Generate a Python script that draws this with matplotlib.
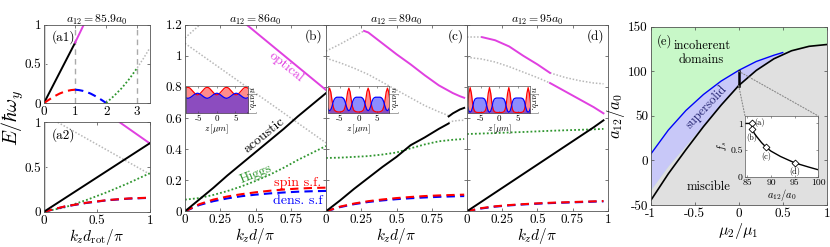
import numpy as np
import matplotlib
matplotlib.use("Agg")
import matplotlib.pyplot as plt
from matplotlib.patches import ConnectionPatch

plt.rcParams['font.family'] = 'serif'
plt.rcParams['font.serif'] = ['cmr10', 'DejaVu Serif']
plt.rcParams['mathtext.fontset'] = 'cm'
plt.rcParams['axes.formatter.use_mathtext'] = True

# ============ DATA ============
# (a1) folded spectrum, a12 = 85.9 a0
a1_ac_x = [0, 1.0]
a1_ac_y = [0, 0.77]
a1_op_x = [1.0, 1.4]
a1_op_y = [0.77, 1.10]
a1_spin_x = [0, 0.125, 0.25, 0.375, 0.5, 0.625, 0.75, 0.875, 1.0]
a1_spin_y = [0, 0.033, 0.065, 0.094, 0.12, 0.14, 0.155, 0.165, 0.17]
a1_dens_x = [1.0, 1.125, 1.25, 1.375, 1.5, 1.625, 1.75, 1.875, 2.0]
a1_dens_y = [0.17, 0.165, 0.155, 0.14, 0.12, 0.094, 0.065, 0.033, 0]
a1_higgs_x = [2.0, 2.25, 2.5, 2.75, 3.0]
a1_higgs_y = [0, 0.09, 0.19, 0.31, 0.45]
a1_gray_x = [3.0, 3.2, 3.4]
a1_gray_y = [0.45, 0.57, 0.70]

# (a2) unfolded, k_z d_rot
a2_x = [0, 0.2, 0.4, 0.6, 0.8, 1.0]
a2_ac = [0, 0.153, 0.306, 0.459, 0.612, 0.765]
a2_spin = [0, 0.06, 0.10, 0.13, 0.148, 0.157]
a2_dens = [0, 0.058, 0.098, 0.128, 0.146, 0.155]
a2_higgs = [0, 0.05, 0.13, 0.22, 0.32, 0.43]
a2_op_x = [0.716, 1.0]
a2_op_y = [1.0, 0.765]
a2_gray_x = [0.13, 1.0]
a2_gray_y = [1.0, 0.42]

# (b) a12 = 86 a0
b_x = [0, 0.1, 0.2, 0.3, 0.4, 0.5, 0.6, 0.7, 0.8, 0.9, 1.0]
b_ac = [0, 0.075, 0.15, 0.23, 0.305, 0.38, 0.455, 0.53, 0.61, 0.685, 0.76]
b_higgs = [0.075, 0.085, 0.105, 0.13, 0.16, 0.195, 0.235, 0.28, 0.33, 0.375, 0.42]
b_spin = [0, 0.045, 0.075, 0.095, 0.11, 0.122, 0.132, 0.14, 0.146, 0.15, 0.152]
b_dens = [0, 0.04, 0.065, 0.083, 0.097, 0.107, 0.115, 0.121, 0.126, 0.129, 0.131]
b_op_x = [0.437, 1.0]
b_op_y = [1.2, 0.78]
b_gray1_x = [0, 0.106]
b_gray1_y = [1.115, 1.2]
b_gray2_x = [0, 1.0]
b_gray2_y = [1.08, 0.44]

# (c) a12 = 89 a0
c_x = [0, 0.1, 0.2, 0.3, 0.4, 0.5, 0.6, 0.7, 0.8, 0.9, 0.98]
c_higgs = [0.343, 0.345, 0.35, 0.355, 0.365, 0.378, 0.405, 0.43, 0.45, 0.46, 0.465]
c_spin = [0, 0.03, 0.05, 0.065, 0.076, 0.085, 0.092, 0.098, 0.102, 0.105, 0.107]
c_dens = [0, 0.027, 0.046, 0.06, 0.07, 0.078, 0.084, 0.089, 0.093, 0.096, 0.098]
c_ac_x = [0, 0.1, 0.2, 0.3, 0.4, 0.5, 0.6, 0.7, 0.8, 0.87]
c_ac_y = [0, 0.07, 0.145, 0.215, 0.285, 0.35, 0.425, 0.475, 0.53, 0.565]
c_ac2_x = [0.87, 0.9, 0.95, 0.98]
c_ac2_y = [0.61, 0.63, 0.655, 0.665]
c_glo_x = [0, 0.1, 0.2, 0.3, 0.4, 0.5, 0.6, 0.7, 0.8, 0.87]
c_glo_y = [0.985, 0.955, 0.92, 0.88, 0.83, 0.78, 0.73, 0.68, 0.64, 0.615]
c_glo2_x = [0.87, 0.9, 0.95, 0.98]
c_glo2_y = [0.57, 0.58, 0.585, 0.585]
c_gup_x = [0, 0.1, 0.2, 0.27]
c_gup_y = [1.03, 1.075, 1.125, 1.16]
c_op_x = [0.27, 0.3, 0.4, 0.5, 0.6, 0.7, 0.8, 0.9, 0.95, 0.98]
c_op_y = [1.16, 1.15, 1.08, 1.01, 0.945, 0.875, 0.81, 0.76, 0.74, 0.73]

# (d) a12 = 95 a0
d_x = [0, 0.1, 0.2, 0.3, 0.4, 0.5, 0.6, 0.7, 0.8, 0.9, 0.97]
d_ac = [0, 0.06, 0.12, 0.18, 0.24, 0.30, 0.36, 0.42, 0.48, 0.54, 0.585]
d_higgs = [0.497, 0.5, 0.503, 0.507, 0.51, 0.514, 0.518, 0.521, 0.524, 0.527, 0.53]
d_spin = [0, 0.02, 0.032, 0.04, 0.046, 0.051, 0.055, 0.058, 0.061, 0.064, 0.066]
d_dens = [0, 0.018, 0.03, 0.038, 0.044, 0.049, 0.053, 0.056, 0.059, 0.062, 0.064]
d_op1_x = [0.107, 0.2, 0.3, 0.4, 0.5, 0.59]
d_op1_y = [1.12, 1.10, 1.06, 1.0, 0.945, 0.89]
d_op2_x = [0.59, 0.7, 0.8, 0.9, 0.97]
d_op2_y = [0.825, 0.77, 0.72, 0.67, 0.63]
d_gtop_x = [0, 0.107]
d_gtop_y = [1.12, 1.12]
d_gup_x = [0.59, 0.7, 0.8, 0.9, 0.97]
d_gup_y = [0.89, 0.86, 0.84, 0.825, 0.82]
d_glo_x = [0, 0.1, 0.2, 0.3, 0.4, 0.5, 0.59]
d_glo_y = [0.99, 0.98, 0.96, 0.93, 0.895, 0.86, 0.825]

# density profiles, one cell (red peak -> red peak)
cell_len = 5.2
b_red = [0.97, 0.96, 0.93, 0.88, 0.83, 0.78, 0.73, 0.70, 0.69, 0.70, 0.73, 0.78, 0.83, 0.88, 0.93, 0.96, 0.97]
b_blue = [0.56, 0.57, 0.59, 0.62, 0.655, 0.69, 0.72, 0.74, 0.75, 0.74, 0.72, 0.69, 0.655, 0.62, 0.59, 0.57, 0.56]
c_red = [0.94, 0.80, 0.50, 0.25, 0.12, 0.08, 0.06, 0.05, 0.05, 0.05, 0.06, 0.08, 0.12, 0.25, 0.50, 0.80, 0.94]
c_blue = [0.10, 0.13, 0.25, 0.42, 0.53, 0.58, 0.60, 0.60, 0.60, 0.60, 0.60, 0.58, 0.53, 0.42, 0.25, 0.13, 0.10]
d_red = [0.96, 0.75, 0.38, 0.15, 0.06, 0.04, 0.03, 0.03, 0.03, 0.03, 0.03, 0.04, 0.06, 0.15, 0.38, 0.75, 0.96]
d_blue = [0.04, 0.08, 0.22, 0.43, 0.53, 0.56, 0.57, 0.57, 0.57, 0.57, 0.57, 0.56, 0.53, 0.43, 0.22, 0.08, 0.04]

# (e) phase diagram
e_x = [-1, -0.8, -0.6, -0.4, -0.2, 0, 0.2, 0.4, 0.6, 0.8, 1.0]
e_black = [-45, -15, 12, 38, 62, 84, 101, 114, 123, 128, 130]
e_ss_lo = [-33, -6, 17, 40, 62, 84, 101, 114, 123, 128, 130]
e_ss_hi = [7, 34, 56, 74, 89, 101, 111, 118, 124, 128, 130]
e_blue_x = [-1, -0.8, -0.6, -0.4, -0.2, 0, 0.2, 0.4, 0.5]
e_blue_y = [7, 34, 56, 74, 89, 101, 111, 118, 121]
e_bar_y = [84, 100]
# superfluid fraction inset
fs_a12 = [84.5, 85.9, 86.0, 86.5, 87, 88, 89, 90, 92, 95, 98, 100]
fs_val = [1.0, 1.0, 0.9, 0.81, 0.75, 0.64, 0.55, 0.48, 0.38, 0.26, 0.18, 0.13]
fs_mark_x = [85.9, 86.0, 89.0, 95.0]
fs_mark_y = [1.0, 0.9, 0.55, 0.26]
fs_mark_lab = ['(a)', '(b)', '(c)', '(d)']
# ===============================

W, H = 830, 247
C_OPT = '#e040e0'
C_GRN = '#2f962f'
C_GRAY = '#b8b8b8'
C_RED = '#ff0000'
C_BLUE = '#0000ff'
DOT = (0, (1, 1.2))
DASH = (4, 2.5)

fig = plt.figure(figsize=(W / 100, H / 100), dpi=100)


def px_axes(x0, y0, x1, y1):
    return fig.add_axes([x0 / W, 1 - y1 / H, (x1 - x0) / W, (y1 - y0) / H])


def style(ax, size=9.5):
    ax.tick_params(direction='in', length=2.5, width=0.5, top=True, right=True,
                   labelsize=size, pad=2, color='#444444')
    for s in ax.spines.values():
        s.set_color('#555555')
        s.set_linewidth(0.6)


def modes(ax, x, ac=None, higgs=None, spin=None, dens=None):
    if higgs is not None:
        ax.plot(x, higgs, color=C_GRN, ls=DOT, lw=1.3)
    if dens is not None:
        ax.plot(x, dens, color=C_BLUE, lw=1.5, dashes=DASH)
    if spin is not None:
        ax.plot(x, spin, color=C_RED, lw=1.5, dashes=DASH)
    if ac is not None:
        ax.plot(x, ac, color='k', lw=1.4)


def gray(ax, x, y):
    ax.plot(x, y, color=C_GRAY, ls=DOT, lw=1.1)


def opt(ax, x, y):
    ax.plot(x, y, color=C_OPT, lw=1.4)


# ----- (a1) -----
ax = px_axes(44, 24.7, 149.7, 103)
style(ax)
ax.axvline(0, color='#d0d0d0', lw=2.0)
for xv in [1, 3]:
    ax.axvline(xv, color='#aaaaaa', lw=1.0, dashes=(4, 3))
ax.plot(a1_ac_x, a1_ac_y, color='k', lw=1.4)
opt(ax, a1_op_x, a1_op_y)
ax.plot(a1_spin_x, a1_spin_y, color=C_RED, lw=1.5, dashes=DASH)
ax.plot(a1_dens_x, a1_dens_y, color=C_BLUE, lw=1.5, dashes=DASH)
ax.plot(a1_higgs_x, a1_higgs_y, color=C_GRN, ls=DOT, lw=1.3)
gray(ax, a1_gray_x, a1_gray_y)
ax.set_xlim(0, 3.4)
ax.set_ylim(0, 1)
ax.set_xticks([0, 1, 2, 3])
ax.set_xticklabels(['0', '1', '2', '3'])
ax.set_yticks([0, 0.5, 1])
ax.set_yticklabels(['0', '0.5', '1'])
ax.set_title(r'$a_{12} = 85.9a_0$', fontsize=8.5, pad=1.5)
ax.text(0.07, 0.93, '(a1)', transform=ax.transAxes, fontsize=9.5, va='top')

# ----- (a2) -----
ax = px_axes(44, 122.3, 149.7, 211.7)
style(ax)
ax.axvline(0, color='#d0d0d0', lw=2.0)
gray(ax, a2_gray_x, a2_gray_y)
opt(ax, a2_op_x, a2_op_y)
modes(ax, a2_x, a2_ac, a2_higgs, a2_spin, a2_dens)
ax.set_xlim(0, 1)
ax.set_ylim(0, 1)
ax.set_xticks([0, 0.5, 1])
ax.set_xticklabels(['0', '0.5', '1'])
ax.set_yticks([0, 0.5, 1])
ax.set_yticklabels(['0', '0.5', '1'])
ax.set_xlabel(r'$k_z d_{\rm rot}/\pi$', fontsize=11, labelpad=0)
ax.text(0.07, 0.93, '(a2)', transform=ax.transAxes, fontsize=9.5, va='top')
fig.text(13 / W, 1 - 118 / H, r'$E/\hbar\omega_y$', rotation=90,
         fontsize=14.5, ha='center', va='center')

# ----- (b), (c), (d) -----
panels = {}
for key, (x0, x1) in zip('bcd', [(185, 326), (326, 467), (467, 607.7)]):
    ax = px_axes(x0, 24.7, x1, 211.3)
    style(ax)
    ax.set_xlim(0, 1)
    ax.set_ylim(0, 1.2)
    ax.set_yticks([0, 0.2, 0.4, 0.6, 0.8, 1.0, 1.2])
    ax.set_xticks([0, 0.25, 0.5, 0.75, 1.0])
    if key == 'd':
        ax.set_xticklabels(['0', '0.25', '0.5', '0.75', '1'])
    else:
        ax.set_xticklabels(['0', '0.25', '0.5', '0.75', ''])
    if key == 'b':
        ax.set_yticklabels(['0', '0.2', '0.4', '0.6', '0.8', '1', '1.2'])
    else:
        ax.set_yticklabels([])
    ax.set_xlabel(r'$k_z d/\pi$', fontsize=11, labelpad=0)
    ax.text(0.975, 0.975, '(%s)' % key, transform=ax.transAxes, fontsize=9.5,
            ha='right', va='top')
    panels[key] = ax

ax = panels['b']
gray(ax, b_gray1_x, b_gray1_y)
gray(ax, b_gray2_x, b_gray2_y)
opt(ax, b_op_x, b_op_y)
modes(ax, b_x, b_ac, b_higgs, b_spin, b_dens)
ax.set_title(r'$a_{12} = 86a_0$', fontsize=8.5, pad=1.5)
ax.text(0.745, 0.955, 'optical', color=C_OPT, fontsize=10, rotation=-39,
        rotation_mode='anchor', ha='center', va='top')
ax.text(0.59, 0.46, 'acoustic', color='k', fontsize=10, rotation=39,
        rotation_mode='anchor', ha='center', va='bottom')
ax.text(0.52, 0.205, 'Higgs', color=C_GRN, fontsize=10, rotation=22,
        rotation_mode='anchor', ha='center', va='bottom')
ax.text(0.80, 0.185, 'spin s.f.', color=C_RED, fontsize=10, ha='center', va='center')
ax.text(0.80, 0.065, 'dens. s.f', color=C_BLUE, fontsize=10, ha='center', va='center')

ax = panels['c']
gray(ax, c_gup_x, c_gup_y)
gray(ax, c_glo_x, c_glo_y)
gray(ax, c_glo2_x, c_glo2_y)
opt(ax, c_op_x, c_op_y)
modes(ax, c_x, None, c_higgs, c_spin, c_dens)
ax.plot(c_ac_x, c_ac_y, color='k', lw=1.4)
ax.plot(c_ac2_x, c_ac2_y, color='k', lw=1.4)
ax.set_title(r'$a_{12} = 89a_0$', fontsize=8.5, pad=1.5)

ax = panels['d']
gray(ax, d_gtop_x, d_gtop_y)
gray(ax, d_glo_x, d_glo_y)
gray(ax, d_gup_x, d_gup_y)
opt(ax, d_op1_x, d_op1_y)
opt(ax, d_op2_x, d_op2_y)
modes(ax, d_x, d_ac, d_higgs, d_spin, d_dens)
ax.set_title(r'$a_{12} = 95a_0$', fontsize=8.5, pad=1.5)

# density insets
z_cell = np.linspace(-cell_len / 2, cell_len / 2, len(b_red))
for (x0, x1), red, blue in zip([(186, 247.7), (327.7, 389.3), (468.3, 530)],
                               [b_red, c_red, d_red], [b_blue, c_blue, d_blue]):
    ins = px_axes(x0, 86, x1, 113.3)
    z = np.concatenate([z_cell[:-1] + p * cell_len for p in range(-2, 3)])
    nr = np.tile(red[:-1], 5)
    nb = np.tile(blue[:-1], 5)
    ins.fill_between(z, 0, nr, color=C_RED, alpha=0.45, lw=0)
    ins.plot(z, nr, color=C_RED, lw=0.9)
    ins.fill_between(z, 0, nb, color=C_BLUE, alpha=0.45, lw=0)
    ins.plot(z, nb, color=C_BLUE, lw=0.9)
    ins.set_xlim(-8.3, 8.3)
    ins.set_ylim(0, 1.02)
    ins.set_yticks([])
    ins.set_xticks([-5, 0, 5])
    ins.set_xticklabels(['-5', '0', '5'])
    ins.tick_params(direction='in', length=1.5, width=0.4, labelsize=6.5, pad=1,
                    top=True, color='#444444')
    for s in ins.spines.values():
        s.set_color('#555555')
        s.set_linewidth(0.5)
    ins.set_xlabel(r'$z\,[\mu m]$', fontsize=6.5, labelpad=0)
    ins.yaxis.set_label_position('right')
    ins.set_ylabel(r'$n[arb.]$', fontsize=6.5, rotation=270, labelpad=7)

# ----- (e) -----
ax = px_axes(650.7, 26.7, 826.7, 205)
style(ax)
ax.set_facecolor('#c8f8c8')
ax.fill_between(e_x, -50, e_ss_lo, color='#e0e0e0', lw=0)
ax.fill_between(e_x, e_ss_lo, e_ss_hi, color='#c8c8f8', lw=0)
ax.plot(e_blue_x, e_blue_y, color=C_BLUE, lw=1.0)
ax.plot(e_x, e_black, color='k', lw=1.2)
ax.plot([0, 0], e_bar_y, color='k', lw=1.8)
ax.set_xlim(-1, 1)
ax.set_ylim(-50, 150)
ax.set_xticks([-1, -0.5, 0, 0.5, 1])
ax.set_xticklabels(['-1', '-0.5', '0', '0.5', '1'])
ax.set_yticks([-50, 0, 50, 100, 150])
ax.set_yticklabels(['-50', '0', '50', '100', '150'])
ax.set_xlabel(r'$\mu_2/\mu_1$', fontsize=11.5, labelpad=1)
ax.set_ylabel(r'$a_{12}/a_0$', fontsize=12, labelpad=1)
ax.text(0.035, 0.96, '(e)', transform=ax.transAxes, fontsize=9, va='top')
ax.text(-0.42, 121, 'incoherent\ndomains', fontsize=9, ha='center', va='center',
        linespacing=1.2)
ax.text(-0.37, 60, 'supersolid', fontsize=9, color='#20206e', rotation=47,
        ha='center', va='center')
ax.text(-0.345, -29.5, 'miscible', fontsize=9, ha='center', va='center')
ax_e = ax

ins = px_axes(745, 116, 818.3, 176.7)
ins.plot(fs_a12, fs_val, color='k', lw=1.0)
ins.plot(fs_mark_x, fs_mark_y, ls='none', marker='D', ms=3.5, mfc='white',
         mec='k', mew=0.6)
for xm, ym, lab in zip(fs_mark_x, fs_mark_y, fs_mark_lab):
    if lab == '(a)':
        ins.text(xm + 0.5, ym + 0.02, lab, fontsize=6, ha='left', va='center')
    else:
        ins.text(xm, ym - 0.08, lab, fontsize=6, ha='center', va='top')
ins.set_xlim(84.5, 100)
ins.set_ylim(0, 1.14)
ins.set_xticks([85, 90, 95, 100])
ins.set_xticklabels(['85', '90', '95', '100'])
ins.set_yticks([0, 0.5, 1])
ins.set_yticklabels(['0', '0.5', '1'])
ins.tick_params(direction='in', length=1.5, width=0.4, labelsize=7, pad=1.5,
                top=True, right=True, color='#444444')
for s in ins.spines.values():
    s.set_color('#555555')
    s.set_linewidth(0.5)
ins.set_xlabel(r'$a_{12}/a_0$', fontsize=7.5, labelpad=0)
ins.set_ylabel(r'$f_s$', fontsize=7.5, labelpad=1)

for yA, xyB in [(e_bar_y[1], (1, 1)), (e_bar_y[0], (0, 1))]:
    con = ConnectionPatch(xyA=(0, yA), coordsA='data', axesA=ax_e,
                          xyB=xyB, coordsB='axes fraction', axesB=ins,
                          color='#888888', ls=':', lw=0.8)
    fig.add_artist(con)

fig.savefig('out.png', dpi=100)
